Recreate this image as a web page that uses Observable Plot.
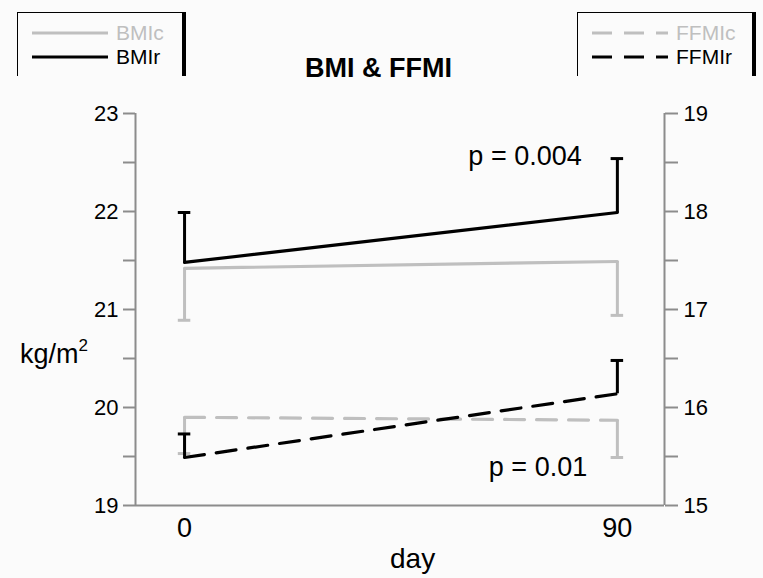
<!DOCTYPE html>
<html><head><meta charset="utf-8">
<script src="https://cdn.jsdelivr.net/npm/d3@7"></script>
<script src="https://cdn.jsdelivr.net/npm/@observablehq/plot@0.6"></script>
<style>
body{margin:0;background:#fbfbfb;}
#wrap{position:relative;width:763px;height:578px;font-family:"Liberation Sans",Arial,Helvetica,sans-serif;background:#fbfbfb;overflow:hidden;}
#chart{position:absolute;left:0;top:0;}
.box{position:absolute;top:12px;height:64px;box-sizing:border-box;border-top:1.5px solid #000;border-left:1.5px solid #000;border-right:4px solid #000;background:#fbfbfb;}
.item{position:absolute;left:0;height:24px;display:flex;align-items:center;font-size:21px;line-height:22px;white-space:nowrap;}
.item svg{display:block;margin-right:7px;}
.lbl{position:absolute;white-space:nowrap;line-height:1;}
</style></head>
<body>
<div id="wrap">
  <div id="chart"></div>
  <div class="box" id="legL" style="left:17px;width:169px;"></div>
  <div class="box" id="legR" style="left:577px;width:179px;"></div>
  <div class="lbl" style="left:305px;top:55px;font-size:27px;font-weight:bold;">BMI &amp; FFMI</div>
  <div class="lbl" style="left:20px;top:341px;font-size:27px;">kg/m<sup style="font-size:17px;vertical-align:top;position:relative;top:-4px;">2</sup></div>
  <div class="lbl" style="left:390px;top:545px;font-size:28px;">day</div>
</div>
<script>
// ---- data ----
const days = [0, 90];
const bmiC = [21.42, 21.49];      // control BMI, kg/m2 (left axis)
const bmiCsd = [0.53, 0.55];      // drawn downward
const bmiR = [21.48, 21.99];      // refeeding BMI
const bmiRsd = [0.51, 0.55];      // drawn upward
const ffmiC = [15.90, 15.87];     // control FFMI (right axis)
const ffmiCsd = [0.37, 0.38];     // drawn downward
const ffmiR = [15.49, 16.14];     // refeeding FFMI
const ffmiRsd = [0.24, 0.34];     // drawn upward

const leftDomain = [19, 23];
const rightDomain = [15, 19];
const xDomain = [-10.2, 99.8];
const leftTicks = [19, 19.5, 20, 20.5, 21, 21.5, 22, 22.5, 23];
const rightTicks = [15, 15.5, 16, 16.5, 17, 17.5, 18, 18.5, 19];
const xTicks = [0, 90];

const pLabels = [
  {text: "p = 0.004", day: 70.8, value: 22.56, axis: "left"},
  {text: "p = 0.01", day: 73.5, value: 15.39, axis: "right"}
];

const series = [
  {name: "BMIc", values: bmiC, sd: bmiCsd, dir: -1, axis: "left", color: "#bfbfbf", dash: null},
  {name: "BMIr", values: bmiR, sd: bmiRsd, dir: 1, axis: "left", color: "#000000", dash: null},
  {name: "FFMIc", values: ffmiC, sd: ffmiCsd, dir: -1, axis: "right", color: "#bfbfbf", dash: "20,12"},
  {name: "FFMIr", values: ffmiR, sd: ffmiRsd, dir: 1, axis: "right", color: "#000000", dash: "20,12"}
];

// ---- helpers ----
const toLeft = v => leftDomain[0] + (v - rightDomain[0]) * (leftDomain[1] - leftDomain[0]) / (rightDomain[1] - rightDomain[0]);
const conv = (axis, v) => axis === "right" ? toLeft(v) : v;

const marks = [];
const axisColor = "#8c8c8c";
marks.push(Plot.ruleX([xDomain[0]], {stroke: axisColor, strokeWidth: 2}));
marks.push(Plot.ruleX([xDomain[1]], {stroke: axisColor, strokeWidth: 2}));
marks.push(Plot.ruleY([leftDomain[0]], {stroke: axisColor, strokeWidth: 2}));
marks.push(Plot.axisY({ticks: leftTicks, tickSize: 12, tickPadding: 5, stroke: axisColor, strokeWidth: 2, fill: "#000", fontSize: 22, label: null,
  tickFormat: d => Number.isInteger(d) ? String(d) : ""}));
marks.push(Plot.axisY({anchor: "right", ticks: rightTicks.map(toLeft), tickSize: 13, tickPadding: 6, stroke: axisColor, strokeWidth: 2, fill: "#000", fontSize: 22, label: null,
  tickFormat: d => { const r = d - toLeft(rightDomain[0]) + rightDomain[0]; return Number.isInteger(r) ? String(r) : ""; }}));
marks.push(Plot.axisX({ticks: xTicks, tickSize: 0, tickPadding: 12, fill: "#000", fontSize: 27, label: null, tickFormat: d => String(d)}));

for (const s of series) {
  const rows = days.map((d, i) => ({day: d, y: conv(s.axis, s.values[i]), end: conv(s.axis, s.values[i] + s.dir * s.sd[i])}));
  marks.push(Plot.ruleX(rows, {x: "day", y1: "y", y2: "end", stroke: s.color, strokeWidth: 3}));
  marks.push(Plot.ruleY(rows, {y: "end", x1: d => d.day - 1.3, x2: d => d.day + 1.3, stroke: s.color, strokeWidth: 3}));
  marks.push(Plot.line(rows, {x: "day", y: "y", stroke: s.color, strokeWidth: 3.2, strokeDasharray: s.dash}));
}
marks.push(Plot.text(pLabels, {x: "day", y: d => conv(d.axis, d.value), text: "text", fontSize: 27, fill: "#000"}));

const chart = Plot.plot({
  width: 763, height: 578,
  marginLeft: 135, marginRight: 99, marginTop: 113, marginBottom: 73,
  x: {domain: xDomain},
  y: {domain: leftDomain},
  style: {background: "transparent", fontFamily: '"Liberation Sans", Arial, sans-serif', color: "#000"},
  marks
});
document.getElementById("chart").appendChild(chart);

// ---- legends ----
function legendItem(box, s, top) {
  const div = document.createElement("div");
  div.className = "item";
  div.style.top = top + "px";
  div.style.left = "14px";
  div.style.color = s.color;
  const svg = d3.create("svg").attr("width", 77).attr("height", 24);
  svg.append("line").attr("x1", 0).attr("x2", 76).attr("y1", 12).attr("y2", 12)
    .attr("stroke", s.color).attr("stroke-width", 3.2).attr("stroke-dasharray", s.dash);
  div.appendChild(svg.node());
  div.appendChild(document.createTextNode(s.name));
  box.appendChild(div);
}
const legL = document.getElementById("legL"), legR = document.getElementById("legR");
legendItem(legL, series[0], 8);
legendItem(legL, series[1], 32);
legendItem(legR, series[2], 8);
legendItem(legR, series[3], 32);
</script>
</body></html>
